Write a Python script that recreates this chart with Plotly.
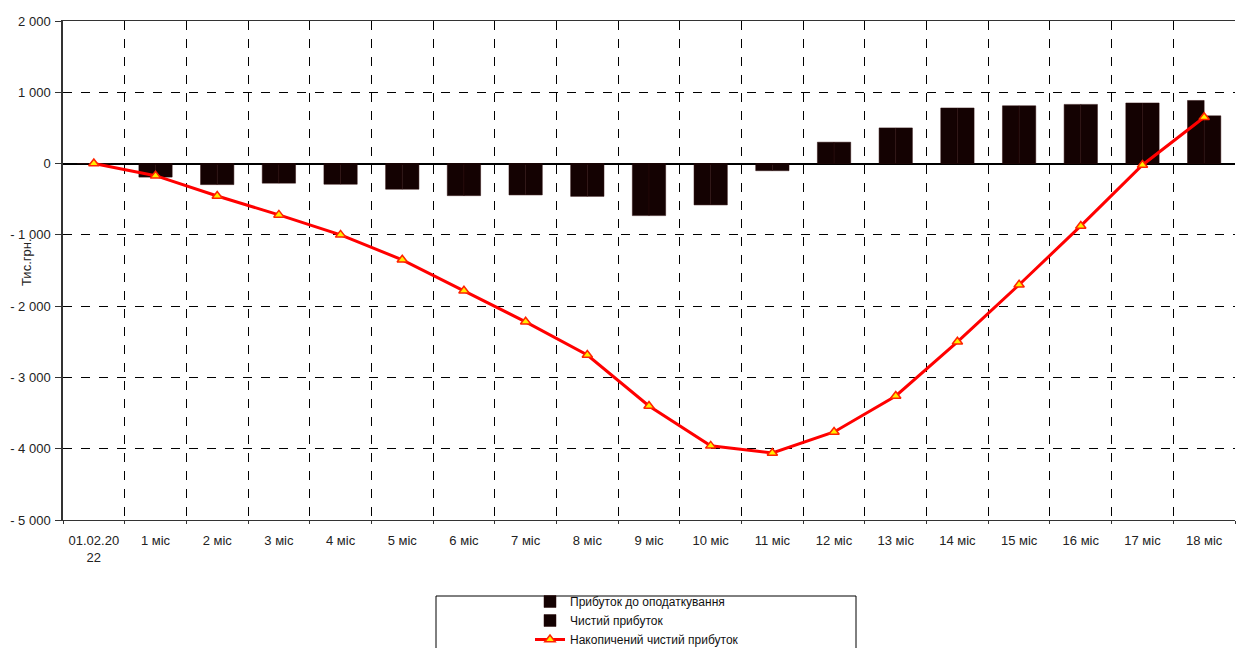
import plotly.graph_objects as go

categories = ["01.02.20<br>22", "1 міс", "2 міс", "3 міс", "4 міс", "5 міс", "6 міс", "7 міс", "8 міс",
              "9 міс", "10 міс", "11 міс", "12 міс", "13 міс", "14 міс", "15 міс", "16 міс", "17 міс", "18 міс"]
profit_before_tax = [0, -190, -295, -275, -290, -360, -450, -440, -460, -730, -580, -100,
                     300, 500, 780, 810, 830, 850, 885]
net_profit = [0, -190, -295, -275, -290, -360, -450, -440, -460, -730, -580, -100,
              300, 500, 780, 810, 830, 850, 670]
accumulated = [0, -170, -455, -720, -1000, -1350, -1785, -2220, -2685, -3400, -3960, -4060,
               -3765, -3260, -2500, -1700, -875, -20, 650]
y_ticks = [2000, 1000, 0, -1000, -2000, -3000, -4000, -5000]
y_ticktext = ["2 000", "1 000", "0", "- 1 000", "- 2 000", "- 3 000", "- 4 000", "- 5 000"]

W, H = 1236, 648
L, R, T, B = 63, 1, 21, 128
pw = W - L - R
ph = H - T - B

def px_x(x):
    return (x - L) / pw

def px_y(y):
    return (H - B - y) / ph

bar_color = "#140202"

fig = go.Figure()
fig.add_trace(go.Bar(x=categories, y=profit_before_tax, name="Прибуток до оподаткування",
                     marker=dict(color=bar_color, line=dict(color="#2a0a0a", width=0.5))))
fig.add_trace(go.Bar(x=categories, y=net_profit, name="Чистий прибуток",
                     marker=dict(color=bar_color, line=dict(color="#2a0a0a", width=0.5))))
fig.add_trace(go.Scatter(x=categories, y=accumulated, name="Накопичений чистий прибуток",
                         mode="lines+markers",
                         line=dict(color="#ff0000", width=3),
                         marker=dict(symbol="triangle-up", size=9, color="#ffee00",
                                     line=dict(color="#ff2200", width=1.5))))

font_family = "Liberation Sans, Arial, sans-serif"
fs = 13

fig.update_layout(
    width=W, height=H,
    margin=dict(l=L, r=R, t=T, b=B, autoexpand=False),
    paper_bgcolor="white", plot_bgcolor="white",
    barmode="group", bargap=0.46, bargroupgap=0,
    font=dict(family=font_family, size=fs, color="#222"),
    showlegend=True,
    legend=dict(x=px_x(530), y=px_y(587), xanchor="left", yanchor="top",
                bgcolor="rgba(0,0,0,0)", borderwidth=0,
                font=dict(size=12, color="#111"), tracegroupgap=0),
    xaxis=dict(type="category", tickson="boundaries", showgrid=True,
               range=[-0.5, len(categories) - 0.5],
               gridcolor="#000", griddash="dash", gridwidth=1,
               showline=True, linecolor="#333", linewidth=1, mirror=True,
               ticks="outside", ticklen=3, tickcolor="#333", ticklabelstandoff=8,
               tickfont=dict(size=fs, color="#222")),
    yaxis=dict(range=[-5000, 2000], tickvals=y_ticks, ticktext=y_ticktext,
               showgrid=True, gridcolor="#000", griddash="dash", gridwidth=1,
               zeroline=True, zerolinecolor="#000", zerolinewidth=2,
               showline=True, linecolor="#333", linewidth=1.5,
               ticks="outside", ticklen=6, tickcolor="#333", ticklabelstandoff=2,
               tickfont=dict(size=fs, color="#222")),
    shapes=[dict(type="rect", xref="paper", yref="paper",
                 x0=px_x(436), x1=px_x(856), y0=px_y(596), y1=px_y(660),
                 line=dict(color="#000", width=1))],
    annotations=[dict(text="Тис.грн.", xref="paper", yref="paper",
                      x=px_x(26), y=px_y(262), xanchor="center", yanchor="middle",
                      textangle=-90, showarrow=False,
                      font=dict(size=fs, color="#222"))],
)

fig.write_html("out.html")
